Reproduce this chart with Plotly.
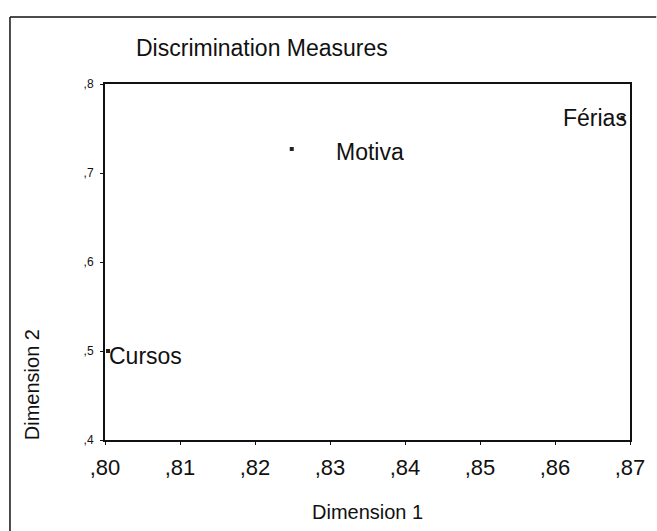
import plotly.graph_objects as go

# data
labels = ["Cursos", "Motiva", "Férias"]
dim1 = [0.8004, 0.8249, 0.8690]
dim2 = [0.500, 0.727, 0.762]

x_tickvals = [0.80, 0.81, 0.82, 0.83, 0.84, 0.85, 0.86, 0.87]
x_ticktext = [",80", ",81", ",82", ",83", ",84", ",85", ",86", ",87"]
y_tickvals = [0.4, 0.5, 0.6, 0.7, 0.8]
y_ticktext = [",4", ",5", ",6", ",7", ",8"]

label_anchor = ["left", "left", "right"]
label_shift = [-1, 42, 6]
label_drop = [-5, -3, 0]

FONT = "Liberation Sans, Arial, sans-serif"

fig = go.Figure()
fig.add_trace(go.Scatter(
    x=dim1, y=dim2, mode="markers",
    marker=dict(size=4, color="#222", symbol="square"),
    hoverinfo="text", text=labels, showlegend=False,
))

for lab, x, y, anc, sh, dy in zip(labels, dim1, dim2, label_anchor, label_shift, label_drop):
    fig.add_annotation(x=x, y=y, text=lab, showarrow=False, xanchor=anc,
                       yanchor="middle", xshift=sh, yshift=dy,
                       font=dict(family=FONT, size=23, color="#111"))

fig.add_annotation(xref="paper", yref="paper", x=0.056, y=1.0, yshift=36,
                   text="Discrimination Measures", showarrow=False,
                   xanchor="left", yanchor="middle",
                   font=dict(family=FONT, size=23, color="#111"))
fig.add_annotation(xref="paper", yref="paper", x=0.5, y=0, yshift=-72,
                   text="Dimension 1", showarrow=False,
                   xanchor="center", yanchor="middle",
                   font=dict(family=FONT, size=20, color="#111"))
fig.add_annotation(xref="paper", yref="paper", x=0, xshift=-73, y=0.154,
                   text="Dimension 2", showarrow=False, textangle=-90,
                   xanchor="center", yanchor="middle",
                   font=dict(family=FONT, size=20, color="#111"))

# outer frame (left and top edges of the SPSS chart box)
fig.add_shape(type="line", xref="paper", yref="paper", x0=-0.181, x1=-0.181,
              y0=1.188, y1=-0.3, line=dict(color="#111", width=1.5))
fig.add_shape(type="line", xref="paper", yref="paper", x0=-0.181, x1=1.05,
              y0=1.188, y1=1.188, line=dict(color="#111", width=1.5))

fig.update_xaxes(range=[0.80, 0.87], tickvals=x_tickvals, ticktext=x_ticktext,
                 showgrid=False, zeroline=False, showline=True, mirror=True,
                 linecolor="#111", linewidth=2, ticks="outside", ticklen=3,
                 tickcolor="#111", ticklabelstandoff=4,
                 tickfont=dict(family=FONT, size=22, color="#111"))
fig.update_yaxes(range=[0.4, 0.8], tickvals=y_tickvals, ticktext=y_ticktext,
                 showgrid=False, zeroline=False, showline=True, mirror=True,
                 linecolor="#111", linewidth=2, ticks="outside", ticklen=3,
                 tickcolor="#111", ticklabelstandoff=4,
                 tickfont=dict(family=FONT, size=12, color="#111"))

fig.update_layout(
    width=657, height=531,
    margin=dict(l=105, r=17, t=84, b=91),
    paper_bgcolor="white", plot_bgcolor="white",
)

# remove the default page margin so the figure fills the window exactly
fig.write_html(
    "out.html",
    config={"displayModeBar": False},
    post_script="document.body.style.margin='0';document.body.style.overflow='hidden';",
)
